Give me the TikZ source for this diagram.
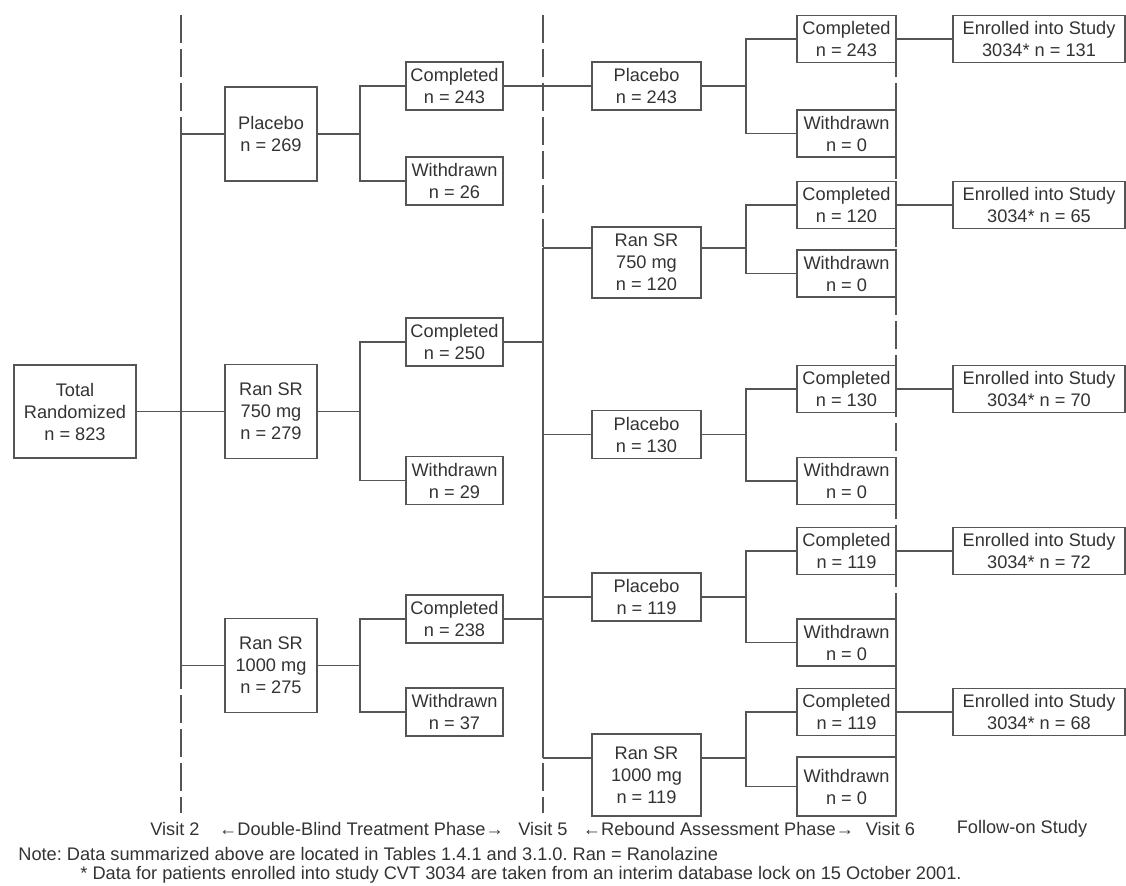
\documentclass[tikz,border=0pt]{standalone}
\usepackage{fontspec}
\setmainfont{Liberation Sans}
\usetikzlibrary{calc}
\definecolor{ink}{HTML}{333333}
\definecolor{rule}{HTML}{555555}
\frenchspacing
\begin{document}
\begin{tikzpicture}[x=0.5pt,y=-0.5pt,font=\fontsize{9.1pt}{11pt}\selectfont,text=ink,
  box/.style={draw=rule,line width=0.95pt,inner sep=0pt,align=center},
  armbox/.style={box,minimum width=46pt,minimum height=47pt},
  subbox/.style={box,minimum width=48.5pt,minimum height=24pt},
  midbox/.style={box,minimum width=54.5pt,minimum height=24pt},
  endbox/.style={box,minimum width=49.5pt,minimum height=23.5pt},
  enrbox/.style={box,minimum width=86pt,minimum height=23.5pt},
  link/.style={draw=rule,line width=0.95pt},
  visit/.style={draw=rule,line width=0.95pt,dash pattern=on 14pt off 3pt},
  caption/.style={inner sep=0pt}]
\useasboundingbox (0,0) rectangle (1126,885);
% visit lines
\coordinate (v2) at (181,15); \coordinate (v2e) at (181,813);
\coordinate (v5) at (543,15); \coordinate (v5e) at (543,813);
\coordinate (v6) at (896,15); \coordinate (v6e) at (896,816);
\coordinate (b1) at (360,0); \coordinate (b3) at (746,0);
\draw[visit] (v2) -- (v2e);
\draw[visit] (v5) -- (v5e);
\draw[visit] (v6) -- (v6e);
% boxes
\node[box,minimum width=61pt,minimum height=46.5pt] (total) at (75,411.5) {Total\\Randomized\\n = 823};
\node[armbox] (a269) at (271,134) {Placebo\\n = 269};
\node[armbox] (a750) at (271,411.5) {Ran SR\\750 mg\\n = 279};
\node[armbox] (a1000) at (271,665.5) {Ran SR\\1000 mg\\n = 275};
\node[subbox] (c243) at (454.5,86) {Completed\\n = 243};
\node[subbox] (w26) at (454.5,181) {Withdrawn\\n = 26};
\node[subbox] (c250) at (454.5,342) {Completed\\n = 250};
\node[subbox] (w29) at (454.5,480.5) {Withdrawn\\n = 29};
\node[subbox] (c238) at (454.5,619) {Completed\\n = 238};
\node[subbox] (w37) at (454.5,712) {Withdrawn\\n = 37};
\node[midbox] (p243) at (646.5,86) {Placebo\\n = 243};
\node[midbox,minimum height=35.5pt] (r750) at (646.5,262.5) {Ran SR\\750 mg\\n = 120};
\node[midbox] (p130) at (646.5,434.5) {Placebo\\n = 130};
\node[midbox] (p119) at (646.5,597) {Placebo\\n = 119};
\node[midbox,minimum height=41pt] (r1000) at (646.5,775) {Ran SR\\1000 mg\\n = 119};
\node[endbox] (d243) at (846.5,39) {Completed\\n = 243};
\node[endbox] (e243) at (846.5,133.5) {Withdrawn\\n = 0};
\node[endbox] (d120) at (846.5,205) {Completed\\n = 120};
\node[endbox] (e120) at (846.5,273.5) {Withdrawn\\n = 0};
\node[endbox] (d130) at (846.5,389) {Completed\\n = 130};
\node[endbox] (e130) at (846.5,481) {Withdrawn\\n = 0};
\node[endbox] (d119) at (846.5,551) {Completed\\n = 119};
\node[endbox] (e119) at (846.5,642.5) {Withdrawn\\n = 0};
\node[endbox] (d119b) at (846.5,712) {Completed\\n = 119};
\node[endbox,minimum height=29.5pt] (e119b) at (846.5,786.5) {Withdrawn\\n = 0};
\node[enrbox] (f131) at (1039,39) {Enrolled into Study\\3034* n = 131};
\node[enrbox] (f65) at (1039,205) {Enrolled into Study\\3034* n = 65};
\node[enrbox] (f70) at (1039,389) {Enrolled into Study\\3034* n = 70};
\node[enrbox] (f72) at (1039,551) {Enrolled into Study\\3034* n = 72};
\node[enrbox] (f68) at (1039,712) {Enrolled into Study\\3034* n = 68};
% double-blind phase
\draw[link] (total) -- (a750);
\draw[link] (v2 |- a269) -- (v2 |- a1000);
\foreach \n in {a269,a1000} \draw[link] (v2 |- \n) -- (\n.west);
\foreach \n/\c/\w in {a269/c243/w26,a750/c250/w29,a1000/c238/w37}{
  \draw[link] (\n.east) -- (b1 |- \n);
  \draw[link] (\c.west) -| (b1 |- \w) -- (\w.west);}
% rebound phase
\draw[link] (c243) -- (p243);
\foreach \c in {c250,c238} \draw[link] (\c.east) -- (v5 |- \c);
\foreach \n/\f/\d/\e in {p243/0.5/d243/e243,r750/0.3/d120/e120,p130/0.5/d130/e130,p119/0.5/d119/e119,r1000/0.3/d119b/e119b}{
  \coordinate (\n-l) at ($(\n.north west)!\f!(\n.south west)$);
  \coordinate (\n-r) at ($(\n.north east)!\f!(\n.south east)$);
  \draw[link] (\n-r) -- (b3 |- \n-r);
  \draw[link] (\d.west) -| (b3 |- \e) -- (\e.west);}
\draw[link] (v5 |- r750-l) -- (v5 |- r1000-l);
\foreach \n in {r750,p130,p119,r1000} \draw[link] (v5 |- \n-l) -- (\n-l);
% follow-on study
\foreach \d/\f in {d243/f131,d120/f65,d130/f70,d119/f72,d119b/f68} \draw[link] (\d) -- (\f);
% phase labels and notes
\node[caption] (vis2) at (175,829) {Visit 2};
\node[caption] (ph1) at (361.5,829) {←Double-Blind Treatment Phase→};
\node[caption] (vis5) at (543,829) {Visit 5};
\node[caption] (ph2) at (718.5,829) {←Rebound Assessment Phase→};
\node[caption] (vis6) at (890.5,829) {Visit 6};
\node[caption] (fol) at (1022,829) {Follow-on Study};
\node[caption,anchor=west] (note) at (18,854) {Note: Data summarized above are located in Tables 1.4.1 and 3.1.0. Ran = Ranolazine};
\node[caption,anchor=west] (foot) at (80,875) {* Data for patients enrolled into study CVT 3034 are taken from an interim database lock on 15 October 2001.};
\end{tikzpicture}
\end{document}
